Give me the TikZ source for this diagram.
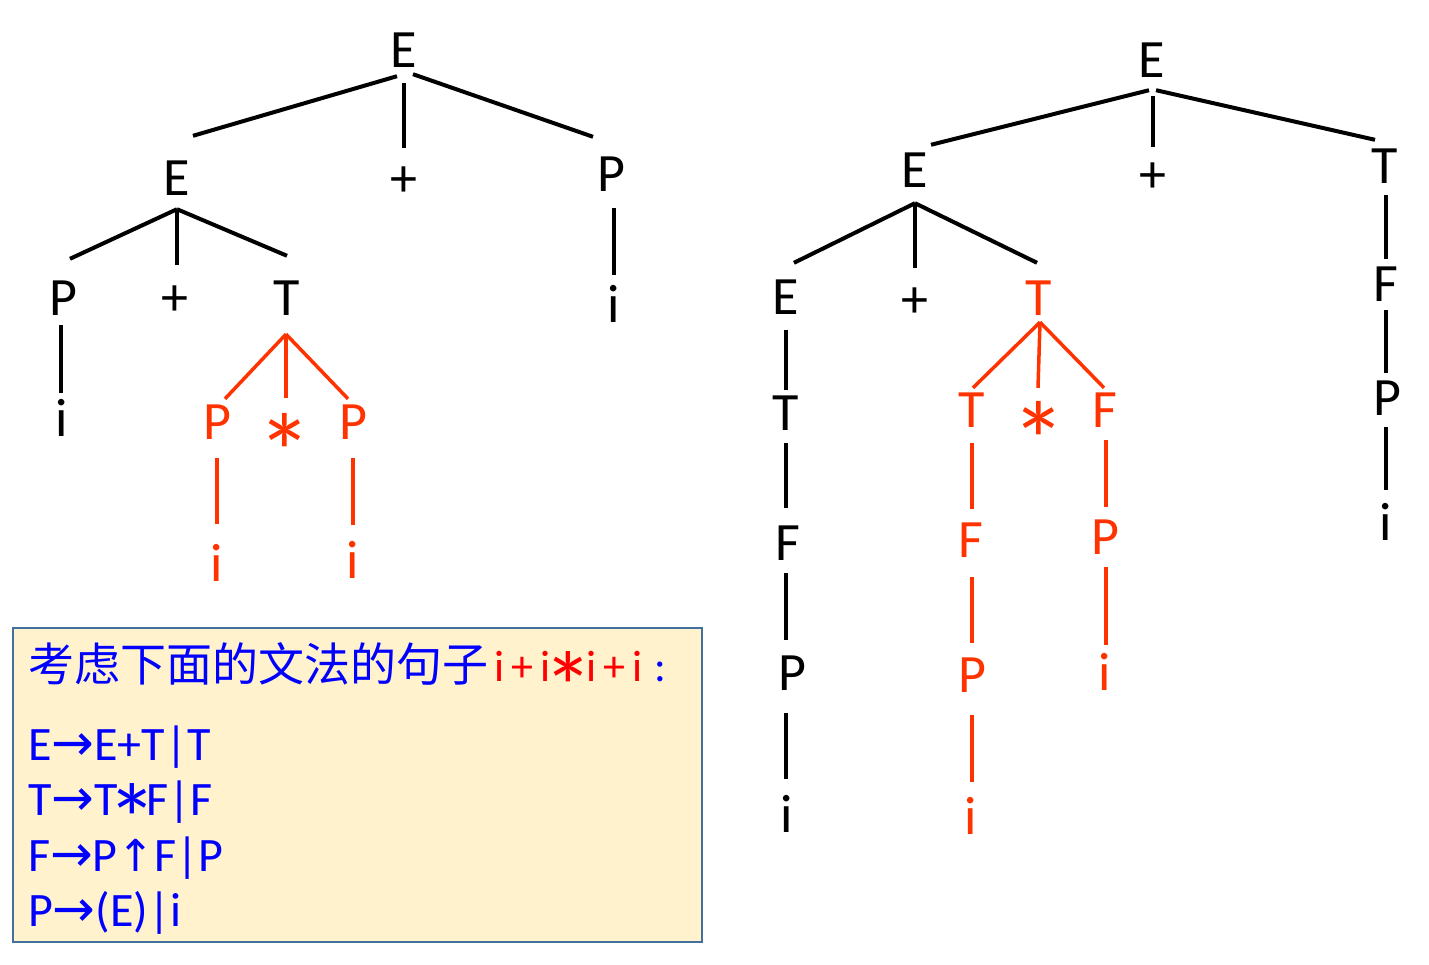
\documentclass[tikz,border=0pt]{standalone}
\usepackage{fontspec}
\setmainfont{Carlito}
\newfontfamily\cjkfont{Noto Sans CJK SC}
\newfontfamily\arrowfont{DejaVu Sans}

\definecolor{treered}{RGB}{255,51,0}
\definecolor{gramblue}{RGB}{0,0,255}
\definecolor{gramred}{RGB}{255,0,0}
\definecolor{boxfill}{RGB}{255,242,204}
\definecolor{boxedge}{RGB}{65,113,156}

\newcommand{\treestar}{\fontsize{110}{110}\selectfont\raisebox{-52pt}{*}}
\newcommand{\rulestar}[2]{\makebox[#1]{\fontsize{100}{100}\selectfont\raisebox{-#2}{*}}}
\newcommand{\halfw}[1]{\makebox[23pt]{#1}}
\newcommand{\ra}{{\arrowfont\fontsize{51}{54}\selectfont →}}
\newcommand{\ua}{{\arrowfont\fontsize{44}{54}\selectfont ↑}}

\tikzset{
  sym/.style={inner sep=0pt, text height=34pt, text depth=0pt, font=\fontsize{54}{60}\selectfont},
  redsym/.style={sym, text=treered},
  blk/.style={line width=4pt},
  redln/.style={line width=3.5pt, draw=treered},
  rule/.style={anchor=base west, inner sep=0pt, text=gramblue, font=\fontsize{48}{54}\selectfont}
}

\begin{document}
\begin{tikzpicture}[x=1pt,y=-1pt]
    %\draw[help lines,step=50] (0,0) grid (1429,964);
    \useasboundingbox (0,0) rectangle (1429,964);
    % left tree
       \node[sym] (eRoot) at (404,50) {E};
       \node[sym] (eL) at (177,178) {E};
       \node[sym] (plusA) at (404,179) {+};
       \node[sym] (pR) at (611,174) {P};
       \node[sym] (iR) at (614,305) {i};
       \node[sym] (pL) at (63,298) {P};
       \node[sym] (plusB) at (175,298) {+};
       \node[sym] (tL) at (287,298) {T};
       \node[sym] (iL) at (62,419) {i};
       \node[redsym] (pRedA) at (217,422) {P};
       \node[redsym] (starA) at (285,422) {\treestar};
       \node[redsym] (pRedB) at (353,422) {P};
       \node[redsym] (iRedA) at (217,564) {i};
       \node[redsym] (iRedB) at (353,561) {i};
       \draw[blk] ([shift={(-7pt,-9pt)}]eRoot.south) -- ([shift={(16pt,25pt)}]eL.north);
       \draw[blk] ([yshift=-16pt]eRoot.south) -- ([yshift=14pt]plusA.north);
       \draw[blk] ([shift={(9pt,-7pt)}]eRoot.south) -- ([shift={(-18pt,20pt)}]pR.north);
       \draw[blk] ([shift={(3pt,-17pt)}]pR.south) -- ([yshift=13pt]iR.north);
       \draw[blk] ([yshift=-14pt]eL.south) -- ([shift={(7pt,22pt)}]pL.north);
       \draw[blk] ([yshift=-14pt]eL.south) -- ([shift={(2pt,16pt)}]plusB.north);
       \draw[blk] ([yshift=-14pt]eL.south) -- ([yshift=25pt]tL.north);
       \draw[blk] ([shift={(-2pt,-10pt)}]pL.south) -- ([shift={(-1pt,9pt)}]iL.north);
       \draw[redln] ([shift={(-1pt,-19pt)}]tL.south) -- ([shift={(8pt,6pt)}]pRedA.north);
       \draw[redln] ([shift={(-1pt,-19pt)}]tL.south) -- ([shift={(1pt,7pt)}]starA.north);
       \draw[redln] ([shift={(-1pt,-19pt)}]tL.south) -- ([shift={(-5pt,6pt)}]pRedB.north);
       \draw[redln] ([yshift=-19pt]pRedA.south) -- ([yshift=23pt]iRedA.north);
       \draw[redln] ([yshift=-19pt]pRedB.south) -- ([yshift=19pt]iRedB.north);
    % right tree
       \node[sym] (rRoot) at (1152,60) {E};
       \node[sym] (rE) at (915,170) {E};
       \node[sym] (rPlus) at (1153,175) {+};
       \node[sym] (rT) at (1385,166) {T};
       \node[sym] (rF) at (1386,284) {F};
       \node[sym] (rP) at (1387,398) {P};
       \node[sym] (rI) at (1386,523) {i};
       \node[sym] (rE2) at (786,297) {E};
       \node[sym] (rPlus2) at (915,300) {+};
       \node[redsym] (rTred) at (1039,298) {T};
       \node[sym] (cT) at (786,413) {T};
       \node[sym] (cF) at (788,543) {F};
       \node[sym] (cP) at (792,673) {P};
       \node[sym] (cI) at (787,815) {i};
       \node[redsym] (tRed) at (972,410) {T};
       \node[redsym] (starB) at (1039,410) {\treestar};
       \node[redsym] (fRed) at (1105,410) {F};
       \node[redsym] (fRed2) at (971,540) {F};
       \node[redsym] (pRed3) at (972,675) {P};
       \node[redsym] (iRed3) at (971,817) {i};
       \node[redsym] (pRed4) at (1105,537) {P};
       \node[redsym] (iRed4) at (1105,673) {i};
       \draw[blk] ([shift={(-3pt,-13pt)}]rRoot.south) -- ([shift={(16pt,8pt)}]rE.north);
       \draw[blk] ([shift={(1pt,-19pt)}]rRoot.south) -- ([yshift=11pt]rPlus.north);
       \draw[blk] ([shift={(4pt,-13pt)}]rRoot.south) -- ([shift={(-10pt,9pt)}]rT.north);
       \draw[blk] ([shift={(1pt,-12pt)}]rT.south) -- ([yshift=8pt]rF.north);
       \draw[blk] ([yshift=-9pt]rF.south) -- ([shift={(-1pt,8pt)}]rP.north);
       \draw[blk] ([shift={(-1pt,-12pt)}]rP.south) -- ([yshift=16pt]rI.north);
       \draw[blk] ([yshift=-16pt]rE.south) -- ([shift={(8pt,17pt)}]rE2.north);
       \draw[blk] ([yshift=-16pt]rE.south) -- ([yshift=15pt]rPlus2.north);
       \draw[blk] ([yshift=-16pt]rE.south) -- ([shift={(-2pt,18pt)}]rTred.north);
       \draw[blk] ([yshift=-16pt]rE2.south) -- ([yshift=6pt]cT.north);
       \draw[blk] ([yshift=-13pt]cT.south) -- ([shift={(-2pt,18pt)}]cF.north);
       \draw[blk] ([shift={(-2pt,-13pt)}]cF.south) -- ([shift={(-6pt,16pt)}]cP.north);
       \draw[blk] ([shift={(-6pt,-23pt)}]cP.south) -- ([shift={(-1pt,19pt)}]cI.north);
       \draw[redln] ([shift={(1pt,-7pt)}]rTred.south) -- ([shift={(1pt,5pt)}]tRed.north);
       \draw[redln] ([shift={(1pt,-7pt)}]rTred.south) -- ([shift={(-1pt,5pt)}]starB.north);
       \draw[redln] ([shift={(1pt,-7pt)}]rTred.south) -- ([shift={(-1pt,5pt)}]fRed.north);
       \draw[redln] ([yshift=-16pt]tRed.south) -- ([shift={(1pt,14pt)}]fRed2.north);
       \draw[redln] ([shift={(1pt,-20pt)}]fRed2.south) -- ([yshift=15pt]pRed3.north);
       \draw[redln] ([yshift=-23pt]pRed3.south) -- ([shift={(1pt,18pt)}]iRed3.north);
       \draw[redln] ([shift={(1pt,-13pt)}]fRed.south) -- ([shift={(1pt,13pt)}]pRed4.north);
       \draw[redln] ([shift={(1pt,-13pt)}]pRed4.south) -- ([shift={(1pt,11pt)}]iRed4.north);
    % grammar box
       \draw[line width=2pt, draw=boxedge, fill=boxfill] (13,628) rectangle (702,942);
       \node[anchor=base west, inner sep=0pt, text=gramblue] (title) at (28,681)
         {{\cjkfont\fontsize{46}{50}\selectfont 考虑下面的文法的句子}{\fontsize{44}{50}\selectfont\color{gramred}\halfw{i}\halfw{+}\halfw{i}\rulestar{23pt}{41pt}\halfw{i}\halfw{+}\halfw{i}}{\fontsize{44}{50}\selectfont\halfw{:}}};
       \node[rule] (ruleE) at (28,760) {E\ra E+T|T};
       \node[rule] (ruleT) at (28,815) {T\ra T\rulestar{29pt}{39pt}F|F};
       \node[rule] (ruleF) at (28,871) {F\ra P\ua F|P};
       \node[rule] (ruleP) at (28,926) {P\ra(E)|i};
\end{tikzpicture}
\end{document}
